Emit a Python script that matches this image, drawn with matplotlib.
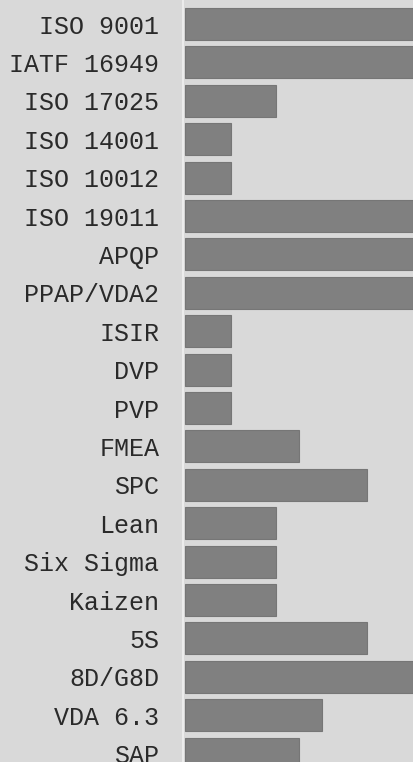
import matplotlib.pyplot as plt
import numpy as np

# skills and rating (1-5)
labels = ["ISO 9001", "IATF 16949", "ISO 17025", "ISO 14001", "ISO 10012",
          "ISO 19011", "APQP", "PPAP/VDA2", "ISIR", "DVP", "PVP", "FMEA",
          "SPC", "Lean", "Six Sigma", "Kaizen", "5S", "8D/G8D", "VDA 6.3", "SAP"]
values = [5, 5, 2, 1, 1, 5, 5, 5, 1, 1, 1, 2.5, 4, 2, 2, 2, 4, 5, 3, 2.5]

bg = "#d9d9d9"
fig = plt.figure(figsize=(4.13, 7.62), dpi=100, facecolor=bg)
ax = fig.add_axes([183 / 413, 0, 230 / 413, 1])
ax.set_facecolor(bg)

y = np.arange(len(labels))
ax.barh(y, values, height=0.83, color="#808080", edgecolor="#767676", linewidth=0.8)

ax.set_yticks(y)
ax.set_yticklabels(labels, family=["Courier New", "Liberation Mono"], fontsize=18, color="#2a2a2a")
ax.tick_params(axis="y", length=0, pad=17)
ax.set_xticks([])

ax.set_xlim(-2 / 45.6, 228 / 45.6)
ax.set_ylim((762 - 24) / 38.4, -24 / 38.4)

for s in ["top", "right", "bottom"]:
    ax.spines[s].set_visible(False)
ax.spines["left"].set_color("#f0f0f0")
ax.spines["left"].set_linewidth(1.2)

fig.savefig("out.png", dpi=100, facecolor=bg)
